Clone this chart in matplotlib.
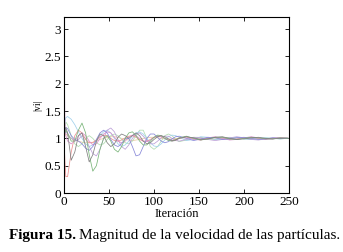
import matplotlib
matplotlib.use("Agg")
import matplotlib.pyplot as plt

iters = [0, 1, 2] + list(range(4, 129, 4)) + list(range(136, 249, 8)) + [250]

v_magenta = [2.9, 1.3, 1.05, 0.95, 0.9, 0.95, 1.05, 1.1, 1.05, 0.95, 0.88, 0.9, 1.0, 1.08, 1.12, 1.1, 1.02,
             0.95, 0.92, 0.95, 1.02, 1.06, 1.05, 1.0, 0.95, 0.94, 0.97, 1.02, 1.05, 1.04, 1.0, 0.97, 0.95, 0.96, 1.0,
             1.03, 0.98, 0.97, 1.01, 1.03, 1.0, 0.97, 0.98, 1.01, 1.03, 1.01, 0.98, 0.99, 1.01, 1.0, 1.0]
v_red = [1.0, 0.6, 0.3, 0.3, 0.75, 1.05, 1.15, 1.1, 0.98, 0.92, 0.92, 0.97, 1.03, 1.06, 1.05, 1.0, 0.96,
         0.95, 0.97, 1.01, 1.04, 1.05, 1.02, 0.98, 0.95, 0.95, 0.98, 1.02, 1.04, 1.03, 1.0, 0.97, 0.96, 0.98, 1.01,
         1.03, 0.99, 0.97, 1.0, 1.02, 1.01, 0.98, 0.99, 1.01, 1.02, 1.0, 0.99, 1.0, 1.01, 1.0, 1.0]
v_gray = [1.0, 1.15, 1.2, 1.1, 0.6, 0.75, 1.05, 1.1, 0.85, 0.57, 0.7, 0.95, 1.08, 1.05, 0.92, 0.85, 0.9,
          1.02, 1.08, 1.05, 1.0, 1.05, 1.1, 1.05, 0.95, 0.9, 0.92, 0.98, 1.03, 1.05, 1.03, 0.99, 0.96, 0.97, 1.0,
          1.03, 1.01, 0.98, 0.99, 1.02, 1.03, 1.0, 0.98, 0.99, 1.01, 1.02, 1.0, 0.99, 1.0, 1.01, 1.0]
v_green = [1.0, 1.1, 1.15, 1.1, 0.95, 0.95, 1.15, 1.28, 1.1, 0.7, 0.4, 0.5, 0.8, 1.0, 1.05, 0.95, 0.8,
           0.75, 0.85, 1.0, 1.1, 1.12, 1.05, 0.95, 0.88, 0.88, 0.95, 1.02, 1.06, 1.05, 1.0, 0.96, 0.95, 0.97, 1.01,
           1.04, 1.0, 0.97, 0.99, 1.02, 1.02, 0.99, 0.98, 1.0, 1.02, 1.01, 0.99, 0.99, 1.01, 1.0, 1.0]
v_blue = [1.0, 1.15, 1.2, 1.18, 1.05, 0.98, 0.95, 0.9, 0.82, 0.78, 0.85, 0.98, 1.1, 1.15, 1.1, 0.98, 0.88,
          0.85, 0.9, 1.0, 1.0, 0.85, 0.68, 0.7, 0.85, 1.0, 1.08, 1.08, 1.02, 0.95, 0.92, 0.94, 0.99, 1.03, 1.04,
          1.0, 0.96, 0.99, 1.02, 1.01, 0.98, 0.99, 1.01, 1.02, 1.0, 0.98, 0.99, 1.01, 1.0, 1.0, 1.0]
v_cyan = [1.0, 1.3, 1.38, 1.4, 1.35, 1.25, 1.12, 1.0, 0.9, 0.85, 0.88, 0.95, 1.05, 1.12, 1.15, 1.1, 1.0,
          0.9, 0.85, 0.88, 0.95, 1.05, 1.1, 1.12, 1.08, 1.0, 0.92, 0.86, 0.85, 0.9, 0.97, 1.03, 1.06, 1.05, 1.02,
          0.96, 0.98, 1.03, 1.02, 0.98, 0.98, 1.01, 1.02, 0.99, 0.98, 1.0, 1.01, 1.0, 0.99, 1.0, 1.0]
v_purple = [1.0, 1.1, 1.12, 1.08, 1.0, 0.95, 0.98, 1.05, 1.0, 0.85, 0.72, 0.68, 0.8, 1.0, 1.15, 1.19, 1.12,
            0.98, 0.85, 0.8, 0.88, 1.0, 1.08, 1.1, 1.04, 0.96, 0.9, 0.9, 0.95, 1.01, 1.04, 1.04, 1.0, 0.96, 0.95,
            0.98, 1.02, 1.01, 0.98, 0.96, 0.98, 1.01, 1.03, 1.01, 0.98, 0.97, 0.99, 1.01, 1.01, 1.0, 1.0]
v_orange = [1.0, 1.05, 1.08, 1.05, 1.0, 0.97, 0.95, 0.93, 0.92, 0.92, 0.93, 0.95, 0.98, 1.0, 1.02, 1.03, 1.03,
            1.02, 1.0, 0.98, 0.97, 0.96, 0.97, 0.98, 1.0, 1.01, 1.02, 1.02, 1.01, 1.0, 0.99, 0.99, 0.99, 1.0, 1.0,
            1.01, 1.01, 1.0, 0.99, 0.99, 1.0, 1.01, 1.01, 1.0, 0.99, 1.0, 1.0, 1.0, 1.0, 1.0, 1.0]
v_lightgreen = [1.0, 1.2, 1.3, 1.25, 1.05, 0.9, 0.85, 0.9, 1.0, 1.05, 1.0, 0.92, 0.88, 0.9, 0.98, 1.05, 1.08,
                1.05, 0.98, 0.92, 0.9, 0.95, 1.05, 1.15, 1.15, 1.0, 0.85, 0.8, 0.85, 0.95, 1.05, 1.08, 1.05, 0.98, 0.94,
                0.97, 1.02, 1.02, 0.99, 0.98, 1.0, 1.02, 1.01, 0.99, 0.98, 1.0, 1.01, 1.0, 0.99, 1.0, 1.0]

series = [
    (v_orange, "#e8c8a0"),
    (v_lightgreen, "#b0dcb0"),
    (v_cyan, "#a0d0ec"),
    (v_purple, "#bca0d8"),
    (v_red, "#ec9090"),
    (v_magenta, "#d890cc"),
    (v_blue, "#8888d8"),
    (v_green, "#78b478"),
    (v_gray, "#808080"),
]

xticks = [0, 50, 100, 150, 200, 250]
yticks = [0, 0.5, 1, 1.5, 2, 2.5, 3]
yticklabels = ["0", "0.5", "1", "1.5", "2", "2.5", "3"]

plt.rcParams["font.family"] = ["Liberation Serif", "DejaVu Serif"]

fig = plt.figure(figsize=(3.43, 2.52), dpi=100)
ax = fig.add_axes([0.1866, 0.234, 0.656, 0.6984])
for vals, col in series:
    ax.plot(iters, vals, color=col, lw=0.55)

ax.set_xlim(0, 250)
ax.set_ylim(0, 3.22)
ax.set_xticks(xticks)
ax.set_yticks(yticks)
ax.set_yticklabels(yticklabels)
ax.tick_params(direction="in", top=True, right=True, length=3, width=0.6, labelsize=9.5, pad=2)
for s in ax.spines.values():
    s.set_linewidth(0.8)
ax.set_xlabel("Iteración", fontsize=9, labelpad=0)
ax.set_ylabel("|vi|", fontsize=7, labelpad=2)

ycap = 1 - 236 / 252
t1 = fig.text(9 / 343, ycap, "Figura 15.", fontsize=11, weight="bold", ha="left", va="center")
fig.canvas.draw()
bb = t1.get_window_extent()
x2 = (bb.x1 + 3) / fig.bbox.width
fig.text(x2, ycap, "Magnitud de la velocidad de las partículas.", fontsize=11, ha="left", va="center")

fig.savefig("out.png", dpi=100)
